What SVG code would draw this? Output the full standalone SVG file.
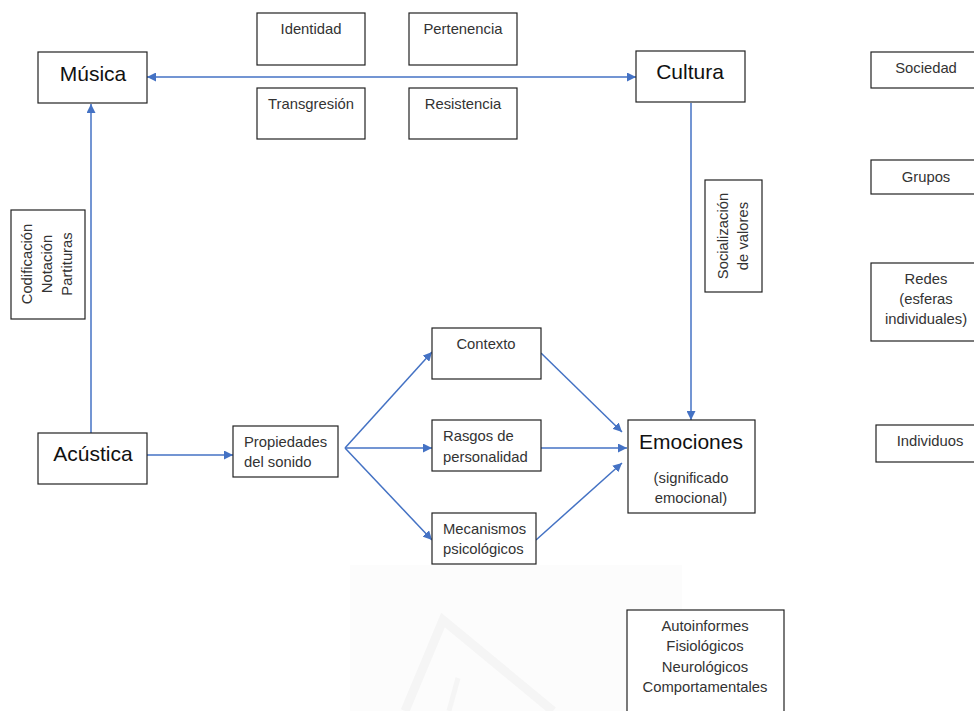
<svg xmlns="http://www.w3.org/2000/svg" width="974" height="711" viewBox="0 0 974 711">
<defs>
<marker id="ah" viewBox="0 0 10 10" refX="10" refY="5" markerWidth="9" markerHeight="9" markerUnits="userSpaceOnUse" orient="auto-start-reverse">
<path d="M0,0 L10,5 L0,10 z" fill="#4472C4"/>
</marker>
<style>
.box{fill:#fff;stroke:#222;stroke-width:1.2}
.t{font-family:"Liberation Sans",Arial,sans-serif;font-size:14.8px;fill:#333}
.big{font-family:"Liberation Sans",Arial,sans-serif;font-size:21px;fill:#111}
.c{text-anchor:middle}
.ln{stroke:#4472C4;stroke-width:1.5;fill:none}
</style>
</defs>
<rect width="974" height="711" fill="#fff"/>
<g id="watermark">
<rect x="350" y="565" width="332" height="146" fill="#fcfcfc"/>
<path d="M405,711 L443,620 L553,711" fill="none" stroke="#f5f5f5" stroke-width="9"/>
<path d="M458,678 L449,711" fill="none" stroke="#f5f5f5" stroke-width="5"/>
</g>
<g id="connectors">
<line class="ln" x1="147" y1="77" x2="636" y2="77" stroke-width="2" marker-start="url(#ah)" marker-end="url(#ah)"/>
<line class="ln" x1="91" y1="433" x2="91" y2="104" marker-end="url(#ah)"/>
<line class="ln" x1="691" y1="103" x2="691" y2="420" marker-end="url(#ah)"/>
<line class="ln" x1="147" y1="455" x2="233" y2="455" marker-end="url(#ah)"/>
<line class="ln" x1="345" y1="448" x2="432" y2="352" marker-end="url(#ah)"/>
<line class="ln" x1="345" y1="448" x2="432" y2="448" marker-end="url(#ah)"/>
<line class="ln" x1="345" y1="448" x2="432" y2="540" marker-end="url(#ah)"/>
<line class="ln" x1="541" y1="353" x2="622" y2="432" marker-end="url(#ah)"/>
<line class="ln" x1="541" y1="448" x2="627" y2="448" marker-end="url(#ah)"/>
<line class="ln" x1="536" y1="540" x2="622" y2="463" marker-end="url(#ah)"/>
</g>
<g id="musica"><rect class="box" x="38" y="52" width="109" height="51"/><text class="big c" x="93" y="81">Música</text></g>
<g id="cultura"><rect class="box" x="636" y="51" width="109" height="51"/><text class="big c" x="690" y="79">Cultura</text></g>
<g id="identidad"><rect class="box" x="257" y="13" width="108" height="52"/><text class="t c" x="311" y="34">Identidad</text></g>
<g id="pertenencia"><rect class="box" x="409" y="13" width="108" height="52"/><text class="t c" x="463" y="34">Pertenencia</text></g>
<g id="transgresion"><rect class="box" x="257" y="88" width="108" height="51"/><text class="t c" x="311" y="109">Transgresión</text></g>
<g id="resistencia"><rect class="box" x="409" y="88" width="108" height="51"/><text class="t c" x="463" y="109">Resistencia</text></g>
<g id="sociedad"><rect class="box" x="871" y="52" width="110" height="36"/><text class="t c" x="926" y="73">Sociedad</text></g>
<g id="grupos"><rect class="box" x="871" y="160" width="110" height="34"/><text class="t c" x="926" y="182">Grupos</text></g>
<g id="redes"><rect class="box" x="871" y="263" width="110" height="78"/><text class="t c" x="926" y="284">Redes</text><text class="t c" x="926" y="304">(esferas</text><text class="t c" x="926" y="324">individuales)</text></g>
<g id="individuos"><rect class="box" x="876" y="425" width="105" height="37"/><text class="t c" x="930" y="446">Individuos</text></g>
<g id="codificacion"><rect class="box" x="11" y="210" width="74" height="109"/>
<g transform="translate(48,264) rotate(-90)"><text class="t c" x="0" y="-16">Codificación</text><text class="t c" x="0" y="4">Notación</text><text class="t c" x="0" y="24">Partituras</text></g></g>
<g id="socializacion"><rect class="box" x="705" y="180" width="57" height="112"/>
<g transform="translate(733,236) rotate(-90)"><text class="t c" x="0" y="-5">Socialización</text><text class="t c" x="0" y="15">de valores</text></g></g>
<g id="acustica"><rect class="box" x="38" y="433" width="109" height="51"/><text class="big c" x="93" y="461">Acústica</text></g>
<g id="propiedades"><rect class="box" x="233" y="426" width="105" height="51"/><text class="t" x="244" y="447">Propiedades</text><text class="t" x="244" y="467">del sonido</text></g>
<g id="contexto"><rect class="box" x="432" y="328" width="109" height="51"/><text class="t c" x="486" y="349">Contexto</text></g>
<g id="rasgos"><rect class="box" x="432" y="420" width="109" height="51"/><text class="t" x="443" y="441">Rasgos de</text><text class="t" x="443" y="462">personalidad</text></g>
<g id="mecanismos"><rect class="box" x="432" y="513" width="104" height="51"/><text class="t" x="443" y="534">Mecanismos</text><text class="t" x="443" y="554">psicológicos</text></g>
<g id="emociones"><rect class="box" x="628" y="420" width="127" height="93"/><text class="big c" x="691" y="449">Emociones</text><text class="t c" x="691" y="483">(significado</text><text class="t c" x="691" y="503">emocional)</text></g>
<g id="medidas"><rect class="box" x="627" y="610" width="157" height="110"/><text class="t c" x="705" y="631">Autoinformes</text><text class="t c" x="705" y="651">Fisiológicos</text><text class="t c" x="705" y="672">Neurológicos</text><text class="t c" x="705" y="692">Comportamentales</text></g>
</svg>
